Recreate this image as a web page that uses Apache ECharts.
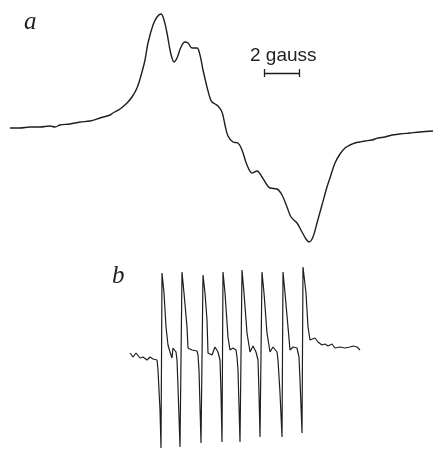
<!DOCTYPE html>
<html>
<head>
<meta charset="utf-8">
<script src="https://cdn.jsdelivr.net/npm/echarts@6/dist/echarts.min.js"></script>
<style>
  html, body { margin: 0; padding: 0; background: #ffffff; }
  #chart { width: 433px; height: 450px; }
</style>
</head>
<body>
<div id="chart"></div>
<script>
// Spectrum a: field position and derivative signal
var fieldA = [10,20,30,40,50,55,60,70,80,90,100,110,113,120,127,132,137,142,145,148,153,157,161,164,167,170,172,174,177,181,185,188,192,197,200,203,207,210,212,215,218,222,225,228,233,238,242,247,252,257,262,267,270,277,282,287,291,297,302,306,309,313,317,322,327,330,335,340,345,350,355,360,365,372,378,385,392,400,410,420,433];
var signalA = [0,0,1,1,2,1,3,4,6,7,10,13,15,19,25,31,40,56,68,85,103,111,114,108,95,78,70,66,70,81,86,85,80,80,73,58,41,30,26,24,22,16,3,-8,-14,-15,-22,-37,-45,-43,-49,-57,-60,-61,-67,-79,-89,-95,-104,-111,-114,-109,-95,-77,-59,-50,-35,-26,-20,-17,-15,-14,-13,-12,-10,-9,-7,-6,-5,-4,-3];

// Spectrum b: eight-line hyperfine pattern
var fieldB = [130,133,136,140,143,147,150,153,157,158,160,161,
  162,164,166,168,170,172,173,176,177,178,180,
  182,184,187,188,192,197,198,199,201,
  203,205,207,208,212,215,218,220,221,222,
  223,225,228,230,233,236,237,238,240,
  242,244,247,250,253,256,258,259,260,
  262,264,267,270,273,277,278,280,282,
  283,285,288,290,293,297,299,300,302,
  303,306,308,310,312,315,318,322,325,328,332,335,340,345,350,353,357,360];
var signalB = [5,1,5,0,1,-2,1,-1,-2,-12,-52,-90,
  85,65,31,13,6,0,10,6,-2,-29,-89,
  86,65,31,10,8,7,3,-12,-85,
  83,65,38,5,3,11,6,-2,-35,-84,
  86,65,21,8,10,8,1,-12,-84,
  88,65,25,6,12,6,-2,-35,-79,
  86,65,25,6,11,6,-2,-35,-79,
  86,65,31,8,11,10,1,-22,-75,
  91,65,31,18,16,20,16,13,14,12,14,10,11,10,11,12,11,8];

// Scale bar (2 gauss) in spectrum a units
var scaleBarField = [264, 299];
var scaleBarLevel = 55;
var scaleBarTick = 4;
var scaleLabel = '2 gauss';
var panelLabels = ['a', 'b'];

function zip(xs, ys) {
  var out = [];
  for (var i = 0; i < xs.length; i++) out.push([xs[i], ys[i]]);
  return out;
}

var chart = echarts.init(document.getElementById('chart'), null, { renderer: 'canvas' });
var lineColor = '#1e1e1e';

var option = {
  backgroundColor: '#ffffff',
  animation: false,
  grid: [
    { left: 0, top: 0, width: 433, height: 250 },
    { left: 0, top: 250, width: 433, height: 200 }
  ],
  xAxis: [
    { type: 'value', gridIndex: 0, min: 0, max: 433, show: false },
    { type: 'value', gridIndex: 1, min: 0, max: 433, show: false }
  ],
  yAxis: [
    { type: 'value', gridIndex: 0, min: -122, max: 128, show: false },
    { type: 'value', gridIndex: 1, min: -92, max: 108, show: false }
  ],
  series: [
    {
      type: 'line', xAxisIndex: 0, yAxisIndex: 0,
      data: zip(fieldA, signalA),
      showSymbol: false, smooth: 0.35,
      lineStyle: { color: lineColor, width: 1.4 }
    },
    {
      type: 'line', xAxisIndex: 1, yAxisIndex: 1,
      data: zip(fieldB, signalB),
      showSymbol: false, smooth: false,
      lineStyle: { color: lineColor, width: 1.2 }
    },
    {
      type: 'lines', coordinateSystem: 'cartesian2d', xAxisIndex: 0, yAxisIndex: 0,
      lineStyle: { color: lineColor, width: 1.3, opacity: 1 },
      data: [
        { coords: [[scaleBarField[0], scaleBarLevel], [scaleBarField[1], scaleBarLevel]] },
        { coords: [[scaleBarField[0], scaleBarLevel + scaleBarTick], [scaleBarField[0], scaleBarLevel - scaleBarTick]] },
        { coords: [[scaleBarField[1], scaleBarLevel + scaleBarTick], [scaleBarField[1], scaleBarLevel - scaleBarTick]] }
      ]
    }
  ],
  graphic: [
    { type: 'text', left: 24, top: 10,
      style: { text: panelLabels[0], font: 'italic 25px "Liberation Serif"', fill: '#222' } },
    { type: 'text', left: 112, top: 264,
      style: { text: panelLabels[1], font: 'italic 25px "Liberation Serif"', fill: '#222' } },
    { type: 'text', left: 250, top: 46,
      style: { text: scaleLabel, font: '19px "Liberation Sans"', fill: '#222' } }
  ]
};
chart.setOption(option);
</script>
</body>
</html>
